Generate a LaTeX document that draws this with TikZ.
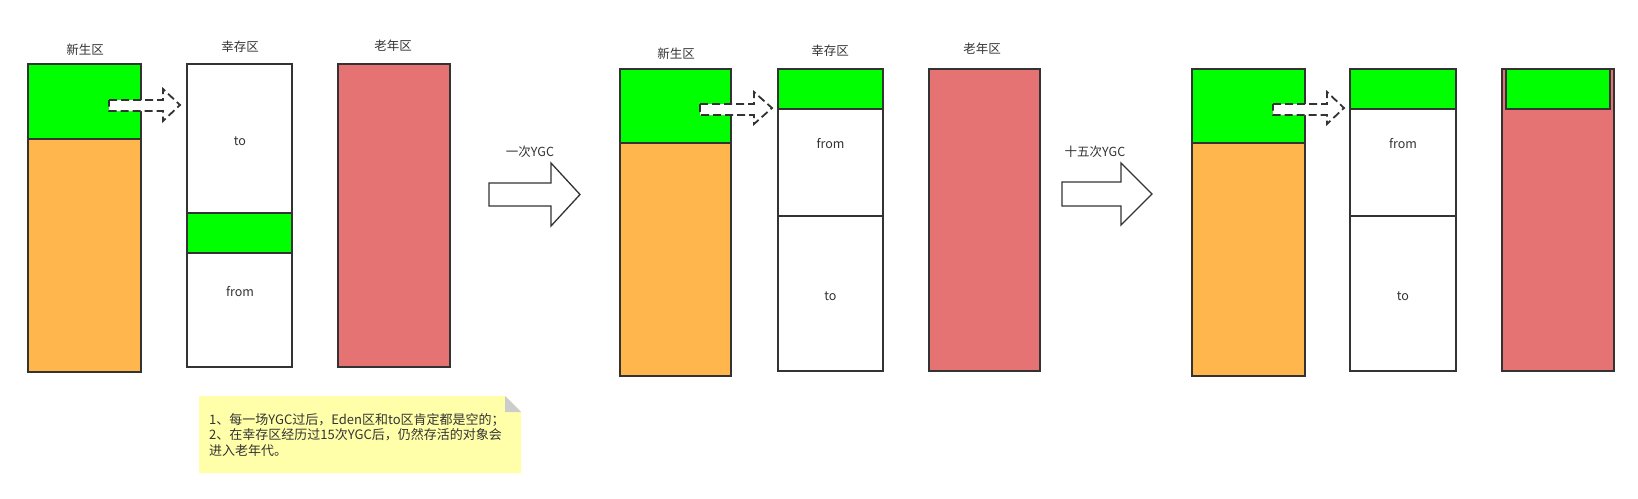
\documentclass[tikz,border=0pt]{standalone}
\usepackage{fontspec}
\setmainfont{Noto Sans CJK SC}
\usepackage{xcolor}
\usetikzlibrary{positioning}
\definecolor{edengreen}{HTML}{00FF00}
\definecolor{edenorange}{HTML}{FFB74D}
\definecolor{oldred}{HTML}{E57373}
\definecolor{notebg}{HTML}{FFFFAA}
\definecolor{foldgray}{HTML}{CCCCCC}
\definecolor{linegray}{HTML}{333333}

\begin{document}
\begin{tikzpicture}[x=1pt,y=-1pt,
		area/.style={draw=linegray, line width=1.8pt},
		lbl/.style={text=linegray, font=\fontsize{12.5}{15}\selectfont, inner sep=0pt},
		move/.style={draw=linegray, fill=white, line width=1.8pt, dash pattern=on 8pt off 4pt},
		ygc/.style={draw=linegray, fill=white, line width=1.3pt}]
				\useasboundingbox[fill=white] (0,0) rectangle (1638,498);
				% first state
				\node[lbl] (eden1) at (85,50) {新生区};
				\node[lbl] (surv1) at (240,47) {幸存区};
				\node[lbl] (old1) at (393,46) {老年区};
				\draw[area, fill=edenorange] (28,64) rectangle (141,372);
				\draw[area, fill=edengreen] (28,64) rectangle (141,139);
				\draw[area, fill=white] (187,64) rectangle (292,367);
				\draw[area, fill=edengreen] (187,213) rectangle (292,253);
				\draw[area, fill=oldred] (338,64) rectangle (450,367);
				\node[lbl] (to1) at (240,141) {to};
				\node[lbl] (from1) at (240,292) {from};
				\draw[move] (109,100) -- (163,100) -- (163,89) -- (180,105) -- (163,121) -- (163,111) -- (109,111) -- cycle;
				
				% one YGC
				\draw[ygc] (489,183) -- (551,183) -- (551,163) -- (580,194.5) -- (551,226) -- (551,206) -- (489,206) -- cycle;
				\node[lbl] (ygc1) at (530,152) {一次YGC};
				
				% second state
				\node[lbl] (eden2) at (676,54) {新生区};
				\node[lbl] (surv2) at (830,51) {幸存区};
				\node[lbl] (old2) at (982,49) {老年区};
				\draw[area, fill=edenorange] (620,69) rectangle (731,376);
				\draw[area, fill=edengreen] (620,69) rectangle (731,143);
				\draw[area, fill=white] (778,69) rectangle (883,371);
				\draw[area, fill=edengreen] (778,69) rectangle (883,109);
				\draw[area] (778,216) -- (883,216);
				\draw[area, fill=oldred] (929,69) rectangle (1040,371);
				\node[lbl] (from2) at (830.5,144) {from};
				\node[lbl] (to2) at (830.5,296) {to};
				\draw[move] (700,104) -- (754,104) -- (754,92) -- (772,108) -- (754,124) -- (754,115) -- (700,115) -- cycle;
				
				% fifteen YGC
				\draw[ygc] (1062,182) -- (1121,182) -- (1121,163) -- (1152,194) -- (1121,225) -- (1121,206) -- (1062,206) -- cycle;
				\node[lbl] (ygc15) at (1095,152) {十五次YGC};
				
				% third state
				\draw[area, fill=edenorange] (1192,69) rectangle (1305,376);
				\draw[area, fill=edengreen] (1192,69) rectangle (1305,143);
				\draw[area, fill=white] (1350,69) rectangle (1456,371);
				\draw[area, fill=edengreen] (1350,69) rectangle (1456,109);
				\draw[area] (1350,216) -- (1456,216);
				\draw[area, fill=oldred] (1502,69) rectangle (1614,371);
				\draw[area, fill=edengreen] (1506,69) rectangle (1610,109);
				\node[lbl] (from3) at (1403,144) {from};
				\node[lbl] (to3) at (1403,296) {to};
				\draw[move] (1273,104) -- (1327,104) -- (1327,92) -- (1344,108) -- (1327,124) -- (1327,115) -- (1273,115) -- cycle;
				
				% note
				\fill[notebg] (199,396) -- (505,396) -- (521,412) -- (521,473) -- (199,473) -- cycle;
				\fill[foldgray] (505,396) -- (521,412) -- (505,412) -- cycle;
				\node[lbl, anchor=north west, align=left, font=\fontsize{13}{15.7}\selectfont] (note) at (209,413) {1、每一场YGC过后，Eden区和to区肯定都是空的；\\2、在幸存区经历过15次YGC后，仍然存活的对象会\\进入老年代。};
			\end{tikzpicture}
\end{document}
